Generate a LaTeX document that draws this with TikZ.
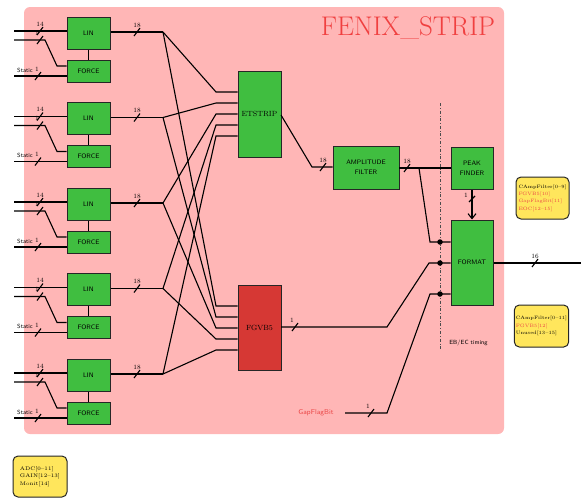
\documentclass[tikz,border=0pt]{standalone}
\usetikzlibrary{arrows.meta}
\definecolor{bgpink}{RGB}{255,182,182}
\definecolor{boxgreen}{RGB}{64,190,64}
\definecolor{boxred}{RGB}{214,56,52}
\definecolor{noteyellow}{RGB}{255,230,92}
\definecolor{titlered}{RGB}{240,64,64}
\definecolor{txtred}{RGB}{235,70,70}
\newcommand\busmark[4]{%
  \draw[wire] (#1-3,#2+4) -- (#1+3,#2-4);
  \node[lbl] at (#1+#4,#2-7) {#3};}
\begin{document}
\begin{tikzpicture}[x=1pt,y=-1pt,
  wire/.style={line width=1.1pt,black},
  gbox/.style={draw=black!85,line width=1pt,fill=boxgreen,inner sep=0pt,align=center,
     font=\sffamily\fontsize{6.5}{8}\selectfont},
  sbox/.style={draw=black!85,line width=1pt,fill=boxgreen,inner sep=0pt,align=center,
     font=\fontsize{7.5}{9}\selectfont},
  lbl/.style={inner sep=0pt,font=\fontsize{6.5}{7}\selectfont},
  slbl/.style={inner sep=0pt,font=\sffamily\fontsize{6}{7}\selectfont},
  note/.style={draw=black!85,line width=1pt,rounded corners=5pt,fill=noteyellow,
     inner xsep=1.5pt,inner ysep=2pt,minimum width=53pt,
     align=left,font=\fontsize{4.8}{7.4}\selectfont},
  dot/.style={circle,fill=black,inner sep=0pt,minimum size=5.5pt}]
\useasboundingbox (0,0) rectangle (581,498);
\fill[bgpink,rounded corners=6pt] (24,7) rectangle (504,434);
\node[text=titlered,font=\fontsize{27}{30}\selectfont,inner sep=0pt] (title) at (408,28) {FENIX\_STRIP};

% central blocks
\node[sbox,minimum width=43pt,minimum height=86pt] (et) at (259.5,114) {ETSTRIP};
\node[draw=black!85,line width=1pt,fill=boxred,inner sep=0pt,minimum width=43pt,minimum height=85pt,
      font=\fontsize{7.5}{9}\selectfont] (fg) at (259.5,327.5) {FGVB5};
\node[gbox,minimum width=66pt,minimum height=43pt] (amp) at (366,167.5) {AMPLITUDE\\[2pt]FILTER};
\node[gbox,minimum width=42pt,minimum height=42pt] (peak) at (472,168) {PEAK\\[2pt]FINDER};
\node[gbox,minimum width=42pt,minimum height=85pt] (fmt) at (472,262.5) {FORMAT};

% input groups
\foreach \i/\T in {1/17,2/102.5,3/188,4/273.5,5/359}{
  \node[gbox,minimum width=43pt,minimum height=32pt] (lin\i) at (88.5,\T+16) {LIN};
  \node[gbox,minimum width=43pt,minimum height=22pt] (force\i) at (88.5,\T+54) {FORCE};
  \draw[wire] (lin\i) -- (force\i);
  \coordinate (a\i) at (14,\T+14);
  \coordinate (b\i) at (14,\T+23);
  \coordinate (c\i) at (14,\T+59);
  \draw[wire] (a\i) -- (lin\i.west |- a\i);
  \draw[wire] (b\i) -- (45,\T+23) -- (57,\T+49) -- (force\i.west |- {(0,\T+49)});
  \draw[wire] (c\i) -- (force\i.west |- c\i);
  \busmark{40}{\T+14}{14}{0}
  \busmark{40}{\T+23}{1}{-3}
  \busmark{38}{\T+59}{1}{-1}
  \node[slbl,anchor=base east] (st\i) at (33,\T+55) {Static};
  \coordinate (j\i) at (163,\T+15);
  \draw[wire] (lin\i.east |- j\i) -- (j\i);
  \busmark{137}{\T+15}{18}{0}
}
\foreach \i in {1,...,5}{
  \coordinate (e\i) at (216,81+11*\i);
  \coordinate (f\i) at (216,295+11*\i);
  \draw[wire] (j\i) -- (e\i) -- (et.west |- e\i);
  \draw[wire] (j\i) -- (f\i) -- (fg.west |- f\i);
}

% ETSTRIP -> AMPLITUDE FILTER
\coordinate (eo) at (281,115);
\coordinate (ek) at (312,167);
\draw[wire] (eo) -- (ek) -- (amp.west |- ek);
\busmark{323}{167}{18}{0}

% AMPLITUDE -> PEAK and FORMAT
\coordinate (ao) at (399,168);
\coordinate (br) at (419,168);
\draw[wire] (ao) -- (peak.west |- ao);
\busmark{407}{168}{18}{0}
\coordinate (k1) at (430,242);
\draw[wire] (br) -- (k1) -- (fmt.west |- k1);

% PEAK -> FORMAT
\draw[wire,-{Straight Barb[length=5pt,width=8pt]}] (peak.south) -- (fmt.north);
\draw[wire] (469,202) -- (475,196);
\node[lbl] at (466,195) {1};

% FGVB5 -> FORMAT
\coordinate (fo) at (281,327);
\coordinate (fk) at (387,327);
\coordinate (k2) at (429,263);
\draw[wire] (fo) -- (fk) -- (k2) -- (fmt.west |- k2);
\busmark{295}{327}{1}{-3}

% GapFlagBit -> FORMAT
\node[text=txtred,font=\sffamily\fontsize{7}{8}\selectfont,inner sep=0pt] (gap) at (316,413) {GapFlagBit};
\coordinate (g0) at (345,413);
\coordinate (gk) at (387,413);
\coordinate (k3) at (430,294);
\draw[wire] (g0) -- (gk) -- (k3) -- (fmt.west |- k3);
\busmark{371}{413}{1}{-3}

% timing line
\draw[line width=0.6pt,black!70,dash dot] (440,103) -- (440,349);
\node[slbl,font=\sffamily\fontsize{6}{7}\selectfont] (ebec) at (468.5,343) {EB/EC timing};
\node[dot] (d1) at (440,242) {};
\node[dot] (d2) at (440,263) {};
\node[dot] (d3) at (440,294) {};

% FORMAT output
\coordinate (out) at (581,263);
\draw[wire] (fmt.east |- out) -- (out);
\busmark{535}{263}{16}{0}

% notes
\node[note,minimum height=42pt] (n1) at (542.5,198)
  {CAmpFilter[0--9]\\ \textcolor{txtred}{FGVB5[10]}\\ \textcolor{txtred}{GapFlagBit[11]}\\ \textcolor{txtred}{EOC[12--15]}};
\node[note,minimum height=42pt] (n2) at (541.5,326)
  {CAmpFilter[0--11]\\ \textcolor{txtred}{FGVB5[12]}\\ Unused[13--15]};
\node[note,minimum height=41pt,minimum width=54pt,font=\fontsize{5.2}{7.6}\selectfont] (n3) at (40,476.5)
  {ADC[0--11]\\ GAIN[12--13]\\ Monit[14]};
\end{tikzpicture}
\end{document}
